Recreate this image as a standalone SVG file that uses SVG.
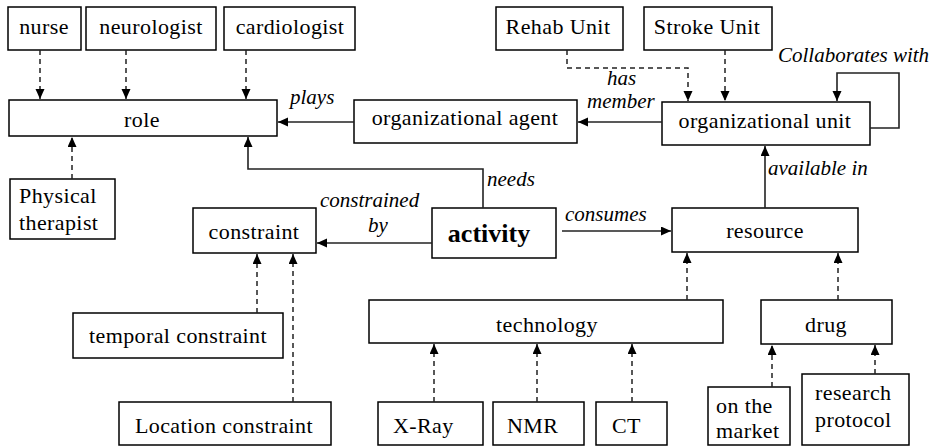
<svg xmlns="http://www.w3.org/2000/svg" width="940" height="446" viewBox="0 0 940 446">
  <defs>
    <marker id="arrow" markerUnits="userSpaceOnUse" markerWidth="11" markerHeight="10" refX="10" refY="4.5" orient="auto">
      <path d="M0,0 L10,4.5 L0,9 z" fill="#000"/>
    </marker>
    <style>
      .box { fill: #fff; stroke: #000; stroke-width: 1.5; }
      text { font-family: "Liberation Serif", Tinos, "Times New Roman", Times, "Noto Serif", "DejaVu Serif", FreeSerif, serif; fill: #000; }
      .lbl { font-size: 22px; letter-spacing: 0.4px; }
      .mid { text-anchor: middle; }
      .rel { font-size: 21px; font-style: italic; }
      .bold { font-size: 26px; font-weight: bold; text-anchor: middle; }
      .solid { fill: none; stroke: #222; stroke-width: 1.6; marker-end: url(#arrow); }
      .dash { fill: none; stroke: #222; stroke-width: 1.5; stroke-dasharray: 5 4; marker-end: url(#arrow); }
    </style>
  </defs>

  <!-- roles -->
  <g id="nurse"><rect class="box" x="8" y="7" width="73" height="43"/><text class="lbl mid" x="44" y="34">nurse</text></g>
  <g id="neurologist"><rect class="box" x="86" y="7" width="130" height="43"/><text class="lbl mid" x="151" y="34">neurologist</text></g>
  <g id="cardiologist"><rect class="box" x="224" y="7" width="131" height="43"/><text class="lbl mid" x="290" y="34">cardiologist</text></g>
  <g id="role"><rect class="box" x="9" y="100" width="268" height="36"/><text class="lbl mid" x="142" y="127">role</text></g>
  <g id="physical-therapist"><rect class="box" x="10" y="179" width="105" height="60"/><text class="lbl" x="19" y="203">Physical</text><text class="lbl" x="19" y="230">therapist</text></g>

  <!-- organisation -->
  <g id="rehab-unit"><rect class="box" x="496" y="7" width="127" height="43"/><text class="lbl mid" x="558" y="34">Rehab Unit</text></g>
  <g id="stroke-unit"><rect class="box" x="644" y="7" width="128" height="43"/><text class="lbl mid" x="707" y="34">Stroke Unit</text></g>
  <g id="organizational-agent"><rect class="box" x="354" y="100" width="223" height="43"/><text class="lbl mid" x="465" y="125">organizational agent</text></g>
  <g id="organizational-unit"><rect class="box" x="662" y="102" width="208" height="43"/><text class="lbl mid" x="765" y="128">organizational unit</text></g>

  <!-- activity and its relations -->
  <g id="constraint"><rect class="box" x="193" y="208" width="123" height="45"/><text class="lbl mid" x="254" y="239">constraint</text></g>
  <g id="activity"><rect class="box" x="432" y="208" width="124" height="50"/><text class="bold" x="489" y="242">activity</text></g>
  <g id="resource"><rect class="box" x="672" y="208" width="186" height="44"/><text class="lbl mid" x="765" y="238">resource</text></g>
  <g id="temporal-constraint"><rect class="box" x="73" y="313" width="210" height="45"/><text class="lbl mid" x="178" y="343">temporal constraint</text></g>
  <g id="location-constraint"><rect class="box" x="119" y="402" width="212" height="43"/><text class="lbl mid" x="224" y="433">Location constraint</text></g>

  <!-- resources -->
  <g id="technology"><rect class="box" x="369" y="300" width="354" height="43"/><text class="lbl mid" x="547" y="332">technology</text></g>
  <g id="drug"><rect class="box" x="761" y="300" width="131" height="44"/><text class="lbl mid" x="826" y="332">drug</text></g>
  <g id="x-ray"><rect class="box" x="378" y="402" width="105" height="43"/><text class="lbl" x="393" y="433">X-Ray</text></g>
  <g id="nmr"><rect class="box" x="493" y="402" width="91" height="43"/><text class="lbl" x="507" y="433">NMR</text></g>
  <g id="ct"><rect class="box" x="596" y="402" width="71" height="43"/><text class="lbl" x="612" y="433">CT</text></g>
  <g id="on-the-market"><rect class="box" x="708" y="387" width="82" height="58"/><text class="lbl" x="716" y="413">on the</text><text class="lbl" x="716" y="438">market</text></g>
  <g id="research-protocol"><rect class="box" x="802" y="374" width="107" height="71"/><text class="lbl" x="815" y="400">research</text><text class="lbl" x="815" y="427">protocol</text></g>

  <!-- connectors -->
  <g id="connectors">
    <path class="dash" d="M40,50 V99"/>
    <path class="dash" d="M126,50 V99"/>
    <path class="dash" d="M246,50 V99"/>
    <path class="dash" d="M72,179 V137"/>
    <path class="dash" d="M567,50 V68 H688 V101"/>
    <path class="dash" d="M725,50 V101"/>
    <path class="dash" d="M257,313 V254"/>
    <path class="dash" d="M293,402 V254"/>
    <path class="dash" d="M687,300 V253"/>
    <path class="dash" d="M838,300 V253"/>
    <path class="dash" d="M434,402 V344"/>
    <path class="dash" d="M537,402 V344"/>
    <path class="dash" d="M632,402 V344"/>
    <path class="dash" d="M772,387 V345"/>
    <path class="dash" d="M875,374 V345"/>

    <path class="solid" d="M354,122 H278"/>
    <path class="solid" d="M662,122 H578"/>
    <path class="solid" d="M870,128 H899 V73 H837 V101"/>
    <path class="solid" d="M483,208 V169 H248 V137"/>
    <path class="solid" d="M432,243 H317"/>
    <path class="solid" d="M562,231 H671"/>
    <path class="solid" d="M765,208 V146"/>

    <text class="rel" x="607" y="85">has</text>
    <text class="rel" x="587" y="108">member</text>
    <text class="rel" x="290" y="104">plays</text>
    <text class="rel" x="778" y="62">Collaborates with</text>
    <text class="rel" x="487" y="186">needs</text>
    <text class="rel" x="320" y="207">constrained</text>
    <text class="rel" x="368" y="232">by</text>
    <text class="rel" x="565" y="221">consumes</text>
    <text class="rel" x="768" y="175">available in</text>
  </g>
</svg>
